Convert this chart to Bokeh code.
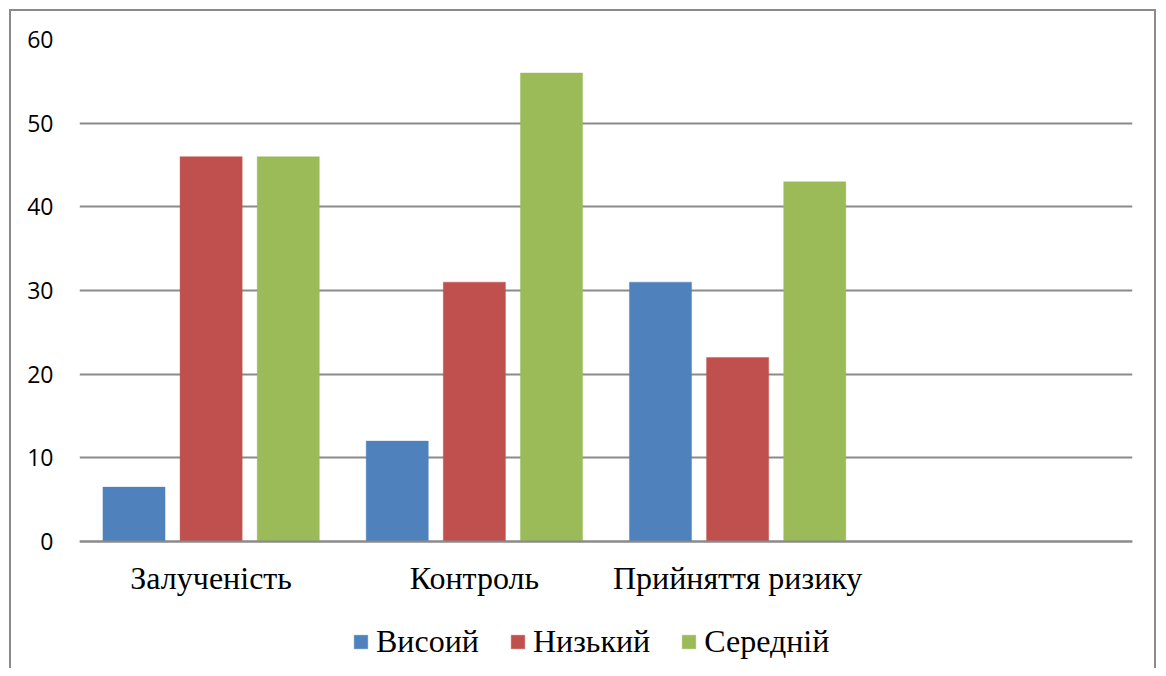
from bokeh.plotting import figure
from bokeh.models import ColumnDataSource, FactorRange, Range1d, Legend, LegendItem
from bokeh.transform import dodge
from bokeh.embed import file_html
from bokeh.resources import INLINE

categories = ["Залученість", "Контроль", "Прийняття ризику", " "]
series_names = ["Висоий", "Низький", "Середній"]
high = [6.5, 12, 31, 0]
low = [46, 31, 22, 0]
mid = [46, 56, 43, 0]
colors = ["#4F81BD", "#C0504D", "#9BBB59"]
y_ticks = [0, 10, 20, 30, 40, 50, 60]

src = ColumnDataSource(dict(cat=categories, high=high, low=low, mid=mid))

W, H = 1158, 668
TOP, ZERO = 39, 541          # pixel rows of the 60 and 0 gridlines
y_max = 60
y_min = -y_max * (H - ZERO) / (ZERO - TOP)   # extend frame below 0 for labels + legend

p = figure(x_range=FactorRange(*categories), y_range=Range1d(y_min, y_max),
           width=W, height=H, output_backend="svg", toolbar_location=None,
           min_border_left=79, min_border_right=26, min_border_top=TOP, min_border_bottom=0)
p.outline_line_color = None
p.border_fill_color = None
p.background_fill_color = None
p.x_range.range_padding = 0
g = "linear-gradient(#8a8a8a,#8a8a8a)"
p.styles = {
    "background-color": "#ffffff",
    "background-image": f"{g}, {g}, {g}",
    "background-position": f"9px 9px, 9px 9px, {W - 4}px 9px",
    "background-size": f"2px 100%, {W - 11}px 2px, 2px 100%",
    "background-repeat": "no-repeat",
}

bw = 0.236
off = 0.293
renderers = []
for field, o, c in zip(["high", "low", "mid"], [-off, 0, off], colors):
    r = p.vbar(x=dodge("cat", o, range=p.x_range), top=field, width=bw, source=src,
               fill_color=c, line_color=c, line_alpha=0.4)
    renderers.append(r)

p.ygrid.grid_line_color = "#8a8a8a"
p.ygrid.grid_line_width = 2
p.xgrid.grid_line_color = None
p.yaxis.ticker = y_ticks
p.yaxis.axis_line_color = None
p.yaxis.major_tick_line_color = None
p.yaxis.major_tick_out = 0
p.yaxis.minor_tick_line_color = None
p.yaxis.major_label_standoff = 26
p.yaxis.major_label_text_font = "Open Sans"
p.yaxis.major_label_text_font_size = "23px"
p.yaxis.major_label_text_color = "#000000"

p.xaxis.fixed_location = 0
p.xaxis.axis_line_color = "#8a8a8a"
p.xaxis.axis_line_width = 2
p.xaxis.major_tick_line_color = None
p.xaxis.major_tick_out = 0
p.xaxis.minor_tick_line_color = None
p.xaxis.major_label_standoff = 18
p.xaxis.major_label_text_font = "Liberation Serif"
p.xaxis.major_label_text_font_size = "32px"
p.xaxis.major_label_text_color = "#000000"

legend = Legend(items=[LegendItem(label=n, renderers=[r]) for n, r in zip(series_names, renderers)],
                orientation="horizontal", location=(273, 8),
                label_text_font="Liberation Serif", label_text_font_size="32px",
                label_text_color="#000000",
                glyph_width=17, glyph_height=17, spacing=30, label_standoff=7,
                border_line_color=None, background_fill_alpha=0, margin=0, padding=0)
p.add_layout(legend, "center")

open("out.html", "w").write(file_html(p, INLINE))
